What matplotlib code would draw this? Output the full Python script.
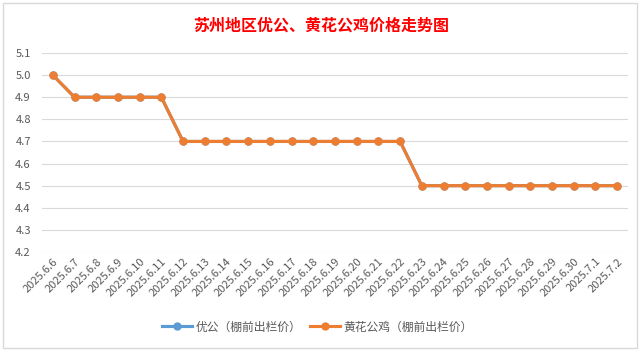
import matplotlib
matplotlib.use("Agg")
import matplotlib.pyplot as plt
from matplotlib.patches import Rectangle

plt.rcParams['font.family'] = ['Noto Sans CJK SC', 'DejaVu Sans']

dates = ["2025.6.6", "2025.6.7", "2025.6.8", "2025.6.9", "2025.6.10", "2025.6.11",
         "2025.6.12", "2025.6.13", "2025.6.14", "2025.6.15", "2025.6.16", "2025.6.17",
         "2025.6.18", "2025.6.19", "2025.6.20", "2025.6.21", "2025.6.22", "2025.6.23",
         "2025.6.24", "2025.6.25", "2025.6.26", "2025.6.27", "2025.6.28", "2025.6.29",
         "2025.6.30", "2025.7.1", "2025.7.2"]
yougong = [5.0, 4.9, 4.9, 4.9, 4.9, 4.9,
           4.7, 4.7, 4.7, 4.7, 4.7, 4.7, 4.7, 4.7, 4.7, 4.7, 4.7,
           4.5, 4.5, 4.5, 4.5, 4.5, 4.5, 4.5, 4.5, 4.5, 4.5]
huanghua = [5.0, 4.9, 4.9, 4.9, 4.9, 4.9,
            4.7, 4.7, 4.7, 4.7, 4.7, 4.7, 4.7, 4.7, 4.7, 4.7, 4.7,
            4.5, 4.5, 4.5, 4.5, 4.5, 4.5, 4.5, 4.5, 4.5, 4.5]
yticks = [4.2, 4.3, 4.4, 4.5, 4.6, 4.7, 4.8, 4.9, 5.0, 5.1]

fig = plt.figure(figsize=(6.43, 3.51), dpi=100)
ax = fig.add_axes([0.0653, 0.282, 0.9114, 0.567])

x = range(len(dates))
ax.plot(x, yougong, color='#5B9BD5', lw=2.25, marker='o', ms=5,
        label='优公（棚前出栏价）', zorder=3)
ax.plot(x, huanghua, color='#ED7D31', lw=2.25, marker='o', ms=5,
        label='黄花公鸡（棚前出栏价）', zorder=4)

ax.set_xlim(-0.5, len(dates) - 0.5)
ax.set_ylim(4.2, 5.1)
ax.set_yticks(yticks)
ax.set_yticklabels([f"{v:.1f}" for v in yticks])
ax.set_xticks(list(x))
ax.set_xticklabels(dates, rotation=45, ha='right', rotation_mode='anchor')
ax.tick_params(axis='both', length=0, labelsize=8, labelcolor='#595959')
ax.tick_params(axis='x', pad=3)
ax.tick_params(axis='y', pad=8)
ax.grid(axis='y', color='#D9D9D9', lw=0.8)
ax.set_axisbelow(True)
for s in ax.spines.values():
    s.set_visible(False)

fig.text(0.5, 0.928, '苏州地区优公、黄花公鸡价格走势图', ha='center', va='center',
         color='#FF0000', fontsize=11.5, fontweight='bold')

ax.legend(loc='center', bbox_to_anchor=(0.47, -0.377), ncol=2, frameon=False,
          fontsize=8.5, labelcolor='#595959', handlelength=2.5, columnspacing=0.8,
          handletextpad=0.3)

fig.patches.append(Rectangle((3 / 643, 3 / 351), 634 / 643, 345 / 351,
                             transform=fig.transFigure, fill=False,
                             edgecolor='#D9D9D9', lw=1))

fig.savefig("out.png", dpi=100)
